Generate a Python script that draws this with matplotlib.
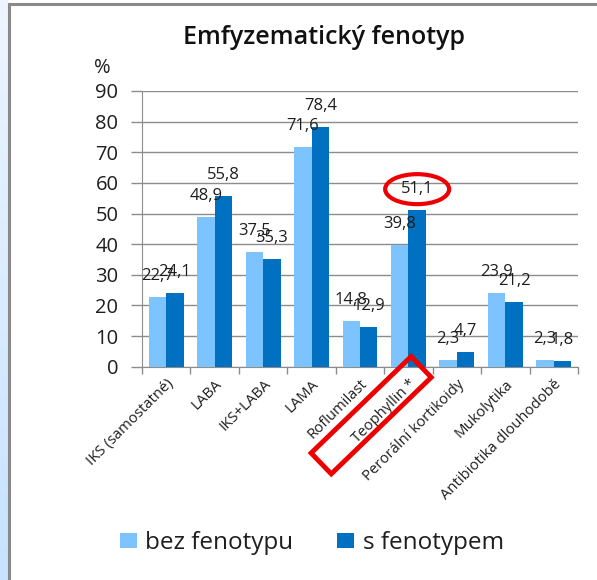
import matplotlib
matplotlib.use("Agg")
import matplotlib.pyplot as plt
import numpy as np
from matplotlib.patches import Rectangle, Ellipse
from matplotlib.transforms import Affine2D, ScaledTranslation
from matplotlib.lines import Line2D
from matplotlib.colors import LinearSegmentedColormap

plt.rcParams['font.family'] = ['Open Sans', 'DejaVu Sans']

title = "Emfyzematický fenotyp"
categories = ["IKS (samostatné)", "LABA", "IKS+LABA", "LAMA", "Roflumilast",
              "Teophyllin *", "Perorální kortikoidy", "Mukolytika", "Antibiotika dlouhodobě"]
series_names = ["bez fenotypu", "s fenotypem"]
bez_fenotypu = [22.7, 48.9, 37.5, 71.6, 14.8, 39.8, 2.3, 23.9, 2.3]
s_fenotypem = [24.1, 55.8, 35.3, 78.4, 12.9, 51.1, 4.7, 21.2, 1.8]
yticks = [0, 10, 20, 30, 40, 50, 60, 70, 80, 90]
highlight_index = 5

c_light = "#7DC3FD"
c_dark = "#0070C0"
grid_c = "#8C8C8C"
txt_c = "#1E1E1E"

W, H = 597, 580
fig = plt.figure(figsize=(W / 100, H / 100), dpi=100)
fig.patch.set_facecolor("white")

# left gradient strip and frame
bg = fig.add_axes([0, 0, 8 / W, 1])
grad = np.linspace(0, 1, 256).reshape(-1, 1)
cm = LinearSegmentedColormap.from_list("g", ["#EEF5FE", "#C6E2FF"])
bg.imshow(grad, aspect="auto", cmap=cm, extent=[0, 1, 0, 1], origin="upper")
bg.set_axis_off()
fig.add_artist(Line2D([9 / W, 9 / W], [0, 1 - 3.5 / H], transform=fig.transFigure,
                      color="#8A8A8A", lw=2.2))
fig.add_artist(Line2D([9 / W, 1], [1 - 4 / H, 1 - 4 / H], transform=fig.transFigure,
                      color="#8A8A8A", lw=2.2))

ax = fig.add_axes([142 / W, 1 - 366.7 / H, (578 - 142) / W, (366.7 - 91) / H])
x = np.arange(len(categories))
bw = 0.36
b1 = ax.bar(x - bw / 2, bez_fenotypu, bw, color=c_light, label=series_names[0], zorder=3)
b2 = ax.bar(x + bw / 2, s_fenotypem, bw, color=c_dark, label=series_names[1], zorder=3)

ax.set_xlim(-0.5, len(categories) - 0.5)
ax.set_ylim(0, 90)
ax.set_yticks(yticks)
ax.set_yticklabels([str(v) for v in yticks], fontsize=14.5, color=txt_c)
ax.tick_params(axis="y", length=8, width=1, color=grid_c, pad=9)
ax.yaxis.grid(True, color=grid_c, lw=1, zorder=0)
for s in ["top", "right"]:
    ax.spines[s].set_visible(False)
ax.spines["left"].set_color(grid_c)
ax.spines["bottom"].set_color(grid_c)

ax.set_xticks(x)
ax.set_xticklabels(categories, rotation=45, ha="right", va="top",
                   rotation_mode="anchor", fontsize=10.7, color=txt_c)
ax.tick_params(axis="x", length=0, pad=7)
ax.set_xticks(np.arange(len(categories) + 1) - 0.5, minor=True)
ax.tick_params(axis="x", which="minor", length=5, color=grid_c, width=1)

def fmt(v):
    return f"{v:.1f}".replace(".", ",")

for bars, vals in ((b1, bez_fenotypu), (b2, s_fenotypem)):
    for rect, v in zip(bars, vals):
        ax.annotate(fmt(v), (rect.get_x() + rect.get_width() / 2, v),
                    xytext=(0, 21), textcoords="offset pixels",
                    ha="center", va="center", fontsize=12, color=txt_c, zorder=5)

# % label
ax.text(-0.092, 1.085, "%", transform=ax.transAxes, fontsize=14.5, ha="center",
        va="center", color=txt_c)

fig.text(0.542, 1 - 37 / H, title, fontsize=18, fontweight="semibold", ha="center",
         va="center", color="#111111")

# red ellipse around the highlighted label
hx = highlight_index + bw / 2
ell = Ellipse((0, 21), 64, 30, fill=False, ec="#EE0000", lw=3,
              transform=Affine2D() + ScaledTranslation(hx, s_fenotypem[highlight_index], ax.transData),
              clip_on=False, zorder=6)
ax.add_artist(ell)

# red rotated rectangle around the highlighted tick label
rect = Rectangle((-130, -23.5), 139, 29, fill=False, ec="#EE0000", lw=3.5,
                 transform=Affine2D().rotate_deg(44) + ScaledTranslation(highlight_index, 0, ax.transData),
                 clip_on=False, zorder=6)
ax.add_artist(rect)

leg = fig.legend(handles=[b1, b2], labels=series_names, loc="center",
                 bbox_to_anchor=(0.522, 1 - 543 / H), ncol=2, frameon=False,
                 fontsize=17.5, handlelength=0.7, handleheight=0.6,
                 handletextpad=0.35, columnspacing=1.8)
for t in leg.get_texts():
    t.set_color(txt_c)

fig.savefig("out.png", dpi=100)
